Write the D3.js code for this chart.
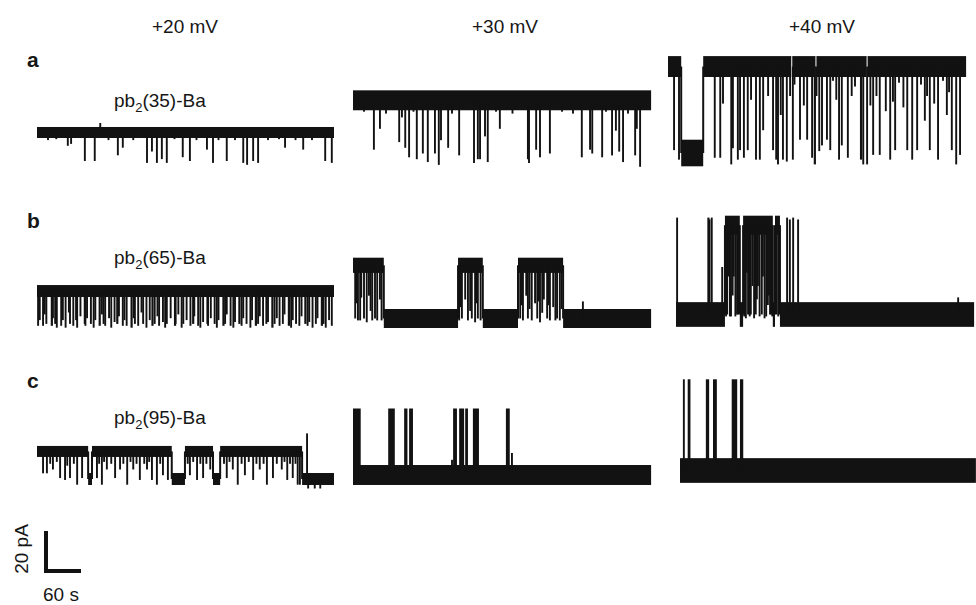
<!DOCTYPE html>
<html><head><meta charset="utf-8">
<script src="https://cdn.jsdelivr.net/npm/d3@7"></script>
<style>
body{margin:0;background:#fff}
svg{display:block}
text{font-family:"Liberation Sans",Arial,Helvetica,sans-serif;fill:#161616}
</style>
</head><body>
<svg id="chart" width="976" height="605"></svg>
<script>
// ---------------- DATA ----------------
const voltages = ["+20 mV", "+30 mV", "+40 mV"];
const rowLabels = ["a", "b", "c"];
const constructs = ["35", "65", "95"];
// scale bar values
const scaleBarCurrent = 20; // pA
const scaleBarTime = 60;    // s

// open-channel current (pA above closed level) per row x voltage
const openCurrent = [[15, 33, 45.5], [16.3, 28, 47], [14.5, 32.6, 47]];
// recording durations (s) per row x voltage
const durations = [[540, 542, 542], [540, 542, 542], [540, 542, 538]];
// noise peak-to-peak (pA) [open, closed]
const noiseLevels = [
  [[5.8, 5], [10.5, 8], [11, 14]],
  [[6.3, 5], [8, 10], [10, 13]],
  [[5.8, 6.3], [8, 10.5], [8, 13]]
];

// segments: [start s, end s, state O=open C=closed]
const a20Seg = [[0, 540, "O"]];
const a30Seg = [[0, 542, "O"]];
const a40Seg = [[0, 24, "O"], [24, 64, "C"], [64, 542, "O"]];
const b20Seg = [[0, 540, "O"]];
const b30Seg = [[0, 56, "O"], [56, 191, "C"], [191, 236, "O"], [236, 300, "C"], [300, 382, "O"], [382, 542, "C"]];
const b40Seg = [[0, 89, "C"], [89, 116, "O"], [116, 122, "C"], [122, 176, "O"], [176, 180, "C"], [180, 189, "O"], [189, 542, "C"]];
const c20Seg = [[0, 93, "O"], [93, 100, "C"], [100, 245, "O"], [245, 269, "C"], [269, 320, "O"], [320, 333, "C"], [333, 482, "O"], [482, 540, "C"]];
const c30Seg = [[0, 542, "C"]];
const c40Seg = [[0, 538, "C"]];

// recording splice gaps (s) in the +40 mV trace of row a
const a40Gaps = [225, 269, 362];

// brief events: [time s, current reached pA, duration s (optional)]
const a20Spk = [[20,11],[35,11.5],[56,8],[62,9],[87,0],[105,0],[115,20],[130,11],[147,3],[156,7],[175,11],[200,-1],[209,5],[218,-1],[227,1],[236,-1],[250,11.5],[265,2],[278,0],[290,11],[309,6],[320,-1],[330,11],[345,0],[360,11],[375,-1],[382,-2],[393,0],[402,-1],[420,11],[440,11.5],[451,7],[470,11],[484,6],[500,11],[524,0],[536,-1]];
const a30Spk = [[20,27],[38,7],[49,18],[60,26],[84,11,2],[89,24],[95,8],[102,3],[110,27],[116,2],[127,5],[136,0.5],[149,5],[156,-1],[160,12],[173,8],[180,26],[193,4],[220,0],[227,2],[231,2],[240,14],[245,0.5],[260,27],[267,18],[290,26],[318,2,2],[320,0],[333,7],[340,3,2],[358,5],[380,27],[400,26],[416,3],[431,7],[435,5],[453,3],[460,27],[471,4],[478,17],[484,6],[491,0.5],[500,26],[513,4],[516,18],[522,-2]];
const a40Spk = [[11,1.5],[20,-3.5],[85,-2.5],[95,-2.5],[100,26],[115,-6],[118,2.5],[127,-3.5],[131,1.5],[138,-2.5],[145,1.5],[151,28],[160,-3.5],[167,-3.5],[173,12],[182,30],[191,1.5],[195,-3.5,4],[200,-6],[205,20],[209,-3.5],[216,-4.5],[222,30],[227,-3.5,3],[230,36],[240,7],[247,25],[253,7],[262,-2.5],[265,-6,4],[270,30],[275,1],[280,4],[289,7],[295,1.5],[300,38],[306,28],[311,-3.5],[316,4],[327,-2.5],[334,30],[340,35],[349,-3.5,4],[355,-6],[362,-6],[368,25],[373,-1],[379,30],[385,-1],[396,22],[404,-3.5],[409,27],[413,1.5],[420,37],[428,24],[435,1.5],[444,-3.5],[453,1.5],[460,36],[467,17],[471,30],[476,1.5],[484,26],[491,-3.5],[500,38],[507,20],[511,32],[516,1.5],[524,-6],[531,-1]];
const b20Spk = [[2,-2,3],[5,1],[11,-2,3],[14,4],[17,-1,3],[25,-2,4],[29,2],[33,-1,3],[36,-3],[44,-2,3],[47,1],[52,-3,3],[58,5],[60,-1,3],[66,-2,3],[71,1],[73,-3,3],[79,3],[85,-1,4],[88,-2],[91,2],[98,-1,3],[103,-3,3],[106,1],[112,-2,4],[118,4],[121,-1,3],[124,-2],[131,2],[135,-3,3],[141,0,3],[144,-1,4],[149,3],[156,-2,3],[159,1],[163,-2,3],[170,-3,4],[176,2],[178,-1,3],[184,-2,3],[190,5],[193,-1,3],[199,-3,3],[205,1],[208,-2,4],[214,-1,3],[219,3],[222,-2,3],[229,0],[233,-3,3],[236,-1,3],[243,2],[249,-2,4],[252,-1,3],[257,4],[263,-3,3],[266,-1,3],[272,1],[279,-2,3],[282,-1,4],[286,3],[293,-2,3],[297,-3,3],[302,0],[308,-1,4],[311,-2,3],[316,2],[323,-1,3],[327,-3,3],[330,1],[337,-2,4],[342,-1,3],[345,4],[352,-2,3],[357,-3,3],[360,0],[366,-1,4],[372,-2,3],[375,2],[381,-1,3],[388,-3,3],[391,1],[396,-2,4],[402,-1,3],[405,3],[411,-2,3],[417,-1,3],[420,0],[426,-3,4],[432,-1,3],[436,2],[441,-2,3],[447,-1,3],[450,4],[456,-2,4],[462,-3,3],[465,1],[471,-1,3],[477,-2,3],[481,3],[486,-1,4],[492,-2,3],[495,0],[501,-3,3],[507,-1,3],[510,2],[516,-2,4],[521,-1,3],[525,-3,3],[531,1],[536,-2,3]];
const b30Spk = [[4,0],[7,8],[9,-1],[13,-1],[15,11],[20,0,2],[25,-2],[29,12],[32,4],[35,-1],[40,0],[44,-1,2],[49,10],[52,-1],[193,-1],[196,6],[198,0],[204,10],[209,-1,2],[213,4],[216,0],[222,-2],[225,8],[227,0],[232,-1],[304,0],[306,7],[309,-1],[315,12],[318,0],[321,5],[325,-1],[331,8],[335,0],[338,9],[340,-2],[344,3],[347,10],[353,0],[356,7],[358,-1],[364,6],[368,-1],[371,0],[376,-1],[379,5],[418,9]];
const b40Spk = [[2,51,2],[57,51,4],[61,50,2],[65,51,3],[84,25,1.5],[91,-1],[93,0],[95,20],[98,-1],[100,-1],[103,10],[105,20],[108,-1],[111,0],[113,0],[114,30],[124,-1],[125,12],[127,-2],[129,22],[131,0],[134,-1],[136,0],[139,15],[142,-2],[145,0],[147,8],[149,15],[152,-1],[156,0],[158,20],[161,-2],[164,-1],[167,5],[169,10],[171,0],[173,0],[175,-1],[183,0],[186,-1],[202,51,2],[207,50,2],[213,51,2],[222,50,2],[513,9]];
const c20Spk = [[11,3],[18,3],[24,8],[29,5],[36,9],[42,0.5],[51,-0.5],[55,7],[60,0.5],[67,8],[73,-3],[82,0.5],[96,-3,2],[109,0.5],[113,8],[118,-3],[122,9],[127,5],[135,8],[142,0.5],[151,5],[157,8],[164,-3],[170,9],[175,5],[181,8],[187,-0.5],[195,8],[200,5],[204,9],[209,-0.5],[218,-3],[224,8],[229,2],[238,-0.5],[274,8],[278,2],[284,9],[291,-0.5],[297,8],[302,0.5],[308,8],[315,5],[340,8],[345,0.5],[350,9],[356,5],[365,-3],[372,8],[378,2],[385,9],[393,-0.5],[399,8],[405,5],[412,8],[418,-3],[429,0.5],[436,8],[445,5],[450,9],[455,-0.5],[460,8],[465,0.5],[470,8],[474,-3],[478,-3],[491,24],[493,-5],[505,-5],[515,-5]];
const c30Spk = [[0,35,14],[64,35,12],[93,35,6],[102,35,7],[180,8],[182,35,7],[193,35,9],[204,35,5],[218,35,11],[278,35,7],[289,11.6]];
const c40Spk = [[7,48,1.5],[14,48,5],[47,48,6],[60,48,7],[94,48,10],[109,48,6]];

// ---------------- LAYOUT ----------------
const PX_PER_S = 0.55, PX_PER_PA = 1.9;
const MIN_W = 1.9;
const panelX = [[37, 353, 668], [37, 353, 676], [37, 353, 680]];
const panelClosedY = [[161, 163, 153], [322, 318.5, 314.5], [479, 475, 470.5]];
const traceColor = "#121212";

const segs = [[a20Seg, a30Seg, a40Seg], [b20Seg, b30Seg, b40Seg], [c20Seg, c30Seg, c40Seg]];
const spks = [[a20Spk, a30Spk, a40Spk], [b20Spk, b30Spk, b40Spk], [c20Spk, c30Spk, c40Spk]];
const gaps = [[[], [], a40Gaps], [[], [], []], [[], [], []]];

const svg = d3.select("#chart");

for (let r = 0; r < 3; r++) {
  for (let c = 0; c < 3; c++) {
    const dur = durations[r][c], open = openCurrent[r][c];
    const x = d3.scaleLinear().domain([0, dur]).range([panelX[r][c], panelX[r][c] + dur * PX_PER_S]);
    const y = d3.scaleLinear().domain([0, 20]).range([panelClosedY[r][c], panelClosedY[r][c] - 20 * PX_PER_PA]);
    const lvl = s => s === "O" ? open : 0;
    const nz = s => noiseLevels[r][c][s === "O" ? 0 : 1];
    const seg = segs[r][c];
    const g = svg.append("g").attr("fill", traceColor);

    g.selectAll("rect.seg").data(seg).join("rect").attr("class", "seg")
      .attr("x", d => x(d[0]))
      .attr("width", d => x(d[1]) - x(d[0]))
      .attr("y", d => y(lvl(d[2]) + nz(d[2]) / 2))
      .attr("height", d => y(lvl(d[2]) - nz(d[2]) / 2) - y(lvl(d[2]) + nz(d[2]) / 2));

    const trans = seg.slice(1).map((d, i) => [d[0], lvl(seg[i][2]), lvl(d[2])]);
    g.selectAll("rect.tr").data(trans).join("rect").attr("class", "tr")
      .attr("x", d => x(d[0]) - 1).attr("width", 2)
      .attr("y", d => y(Math.max(d[1], d[2])))
      .attr("height", d => Math.abs(y(d[1]) - y(d[2])));

    const baseAt = t => { const s = seg.find(d => t >= d[0] && t < d[1]) || seg[seg.length - 1]; return lvl(s[2]); };

    // splice gaps: thin white lines through the band
    g.selectAll("rect.gap").data(gaps[r][c]).join("rect").attr("class", "gap")
      .attr("fill", "#fff")
      .attr("x", d => x(d) - 0.5).attr("width", 1)
      .attr("y", d => y(baseAt(d) + nz("O") / 2))
      .attr("height", d => y(baseAt(d) - nz("O") / 2) - y(baseAt(d) + nz("O") / 2));

    g.selectAll("rect.sp").data(spks[r][c]).join("rect").attr("class", "sp")
      .attr("x", d => { const w = x(d[0] + (d[2] || 0)) - x(d[0]); return w < MIN_W ? x(d[0]) - MIN_W / 2 : x(d[0]); })
      .attr("width", d => Math.max(MIN_W, x(d[0] + (d[2] || 0)) - x(d[0])))
      .attr("y", d => Math.min(y(baseAt(d[0])), y(d[1])))
      .attr("height", d => Math.max(1, Math.abs(y(baseAt(d[0])) - y(d[1]))));
  }
}

// headers
const headerX = [185, 505, 822];
svg.selectAll("text.v").data(voltages).join("text").attr("class", "v")
  .attr("x", (d, i) => headerX[i]).attr("y", 33).attr("text-anchor", "middle")
  .attr("font-size", 19).text(d => d);

const rowBase = [67, 228, 388];
svg.selectAll("text.rl").data(rowLabels).join("text").attr("class", "rl")
  .attr("x", 27).attr("y", (d, i) => rowBase[i]).attr("font-size", 21).attr("font-weight", "bold").text(d => d);

const conBase = [107, 264, 424];
constructs.forEach((d, i) => {
  const t = svg.append("text").attr("x", 114).attr("y", conBase[i]).attr("font-size", 19);
  t.append("tspan").text("pb");
  t.append("tspan").attr("font-size", 13).attr("dy", 5).text("2");
  t.append("tspan").attr("dy", -5).text("(" + d + ")-Ba");
});

// scale bar using scales
const sbx = d3.scaleLinear().domain([0, scaleBarTime]).range([46, 46 + scaleBarTime * PX_PER_S]);
const sby = d3.scaleLinear().domain([0, scaleBarCurrent]).range([571, 571 - scaleBarCurrent * PX_PER_PA]);
svg.append("path")
  .attr("d", `M${sbx(0)},${sby(scaleBarCurrent)}V${sby(0)}H${sbx(scaleBarTime)}`)
  .attr("fill", "none").attr("stroke", "#111").attr("stroke-width", 4).attr("stroke-linecap", "square");
svg.append("text").attr("transform", "translate(28,549) rotate(-90)").attr("text-anchor", "middle")
  .attr("font-size", 19).text(scaleBarCurrent + " pA");
svg.append("text").attr("x", 61).attr("y", 601).attr("text-anchor", "middle")
  .attr("font-size", 19).text(scaleBarTime + " s");
</script>
</body></html>
